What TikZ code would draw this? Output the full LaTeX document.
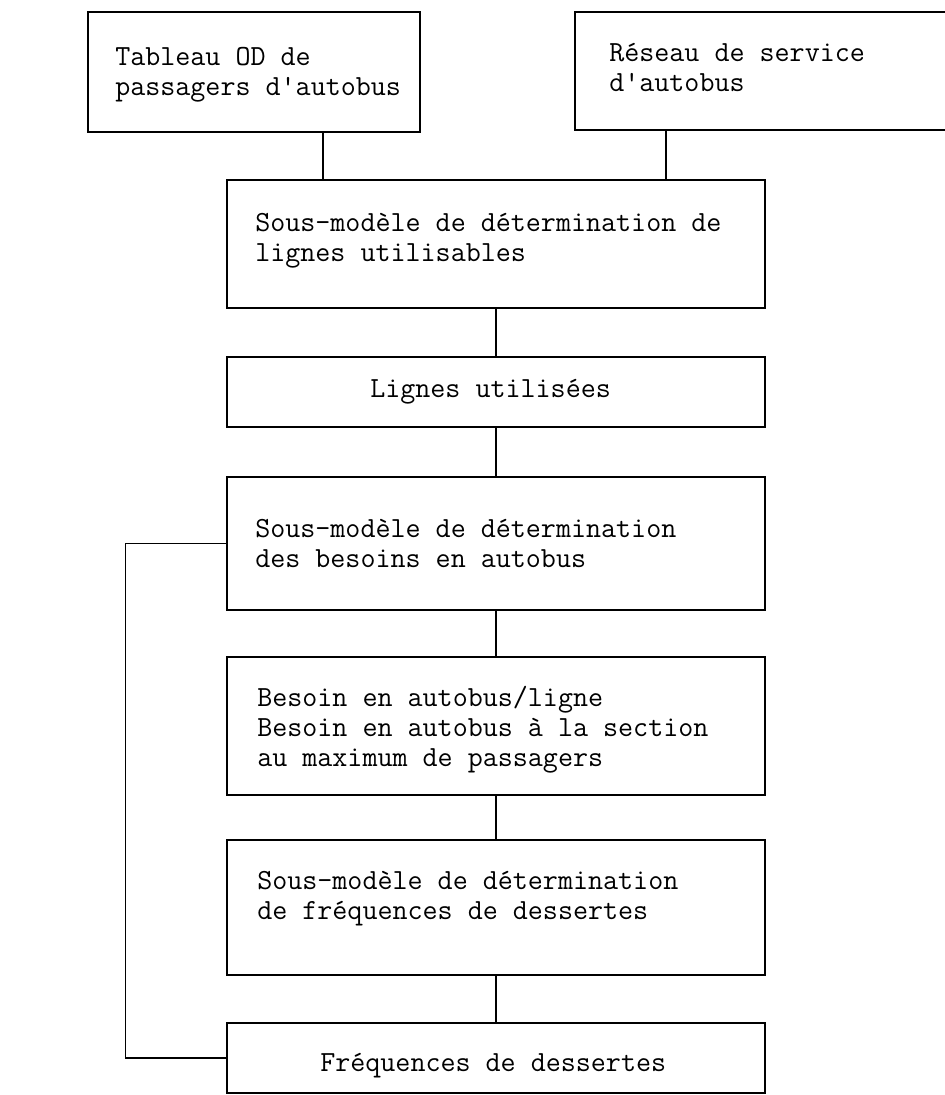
\documentclass[tikz,border=0pt]{standalone}
\begin{document}
\begin{tikzpicture}[x=0.75pt,y=-0.75pt,
  box/.style={draw=black,line width=2pt,rectangle,inner sep=0pt},
  link/.style={draw=black,line width=1.1pt},
  txt/.style={font=\fontsize{21.9}{22.5}\selectfont\ttfamily,align=left,inner sep=0pt,anchor=west}]
\fill[white] (0,0) rectangle (945,1095);
\useasboundingbox (0,0) rectangle (945,1095);
\clip (0,0) rectangle (945,1095);
% boxes
\node[box,minimum width=249pt,minimum height=90pt] (tl) at (254,72) {};
\node[box,minimum width=292.5pt,minimum height=88.5pt] (tr) at (770,71) {};
\node[box,minimum width=403.5pt,minimum height=96pt] (b2) at (496,244) {};
\node[box,minimum width=403.5pt,minimum height=52.5pt] (b3) at (496,392) {};
\node[box,minimum width=403.5pt,minimum height=99.75pt] (b4) at (496,543.5) {};
\node[box,minimum width=403.5pt,minimum height=103.5pt] (b5) at (496,726) {};
\node[box,minimum width=403.5pt,minimum height=101.25pt] (b6) at (496,907.5) {};
\node[box,minimum width=403.5pt,minimum height=52.5pt] (b7) at (496,1058) {};
% texts
\node[txt] (t1) at (115,75) {Tableau OD de\\passagers d\textquotesingle{}autobus};
\node[txt] (t2) at (609,67) {Réseau de service\\d\textquotesingle{}autobus};
\node[txt] (t3) at (255,241) {Sous-modèle de détermination de\\lignes utilisables};
\node[txt] (t4) at (370,392) {Lignes utilisées};
\node[txt] (t5) at (255,543) {Sous-modèle de détermination\\des besoins en autobus};
\node[txt] (t6) at (257,730) {Besoin en autobus/ligne\\Besoin en autobus à la section\\au maximum de passagers};
\node[txt] (t7) at (257,899) {Sous-modèle de détermination\\de fréquences de dessertes};
\node[txt] (t8) at (320,1066) {Fréquences de dessertes};
% connectors
\coordinate (jl) at (323,180);
\coordinate (jr) at (666,180);
\draw[link] (tl.south -| jl) -- (jl);
\draw[link] (tr.south -| jr) -- (jr);
\draw[link] (b2.south) -- (b3.north);
\draw[link] (b3.south) -- (b4.north);
\draw[link] (b4.south) -- (b5.north);
\draw[link] (b5.south) -- (b6.north);
\draw[link] (b6.south) -- (b7.north);
\draw[link] (b4.west) -- ++(-100,0) |- (b7.west);
\end{tikzpicture}
\end{document}
